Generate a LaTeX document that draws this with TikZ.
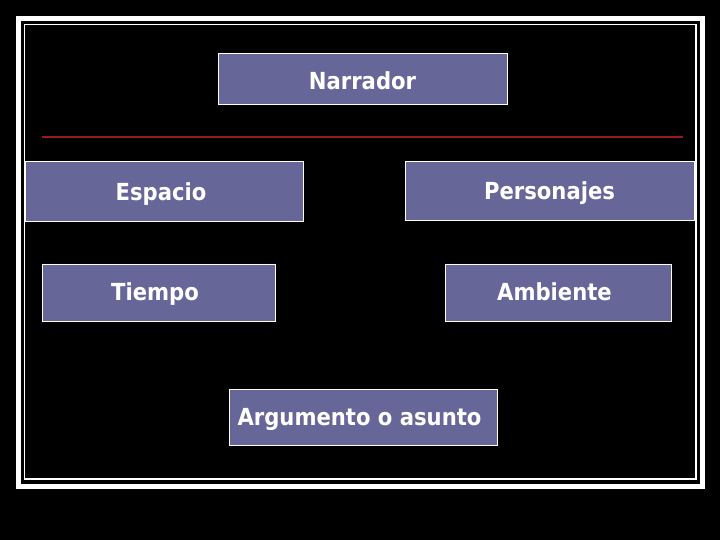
\documentclass[tikz,border=0pt]{standalone}
\usepackage{fontspec}
\setmainfont{DejaVu Sans Condensed}
\begin{document}
\begin{tikzpicture}[x=1pt,y=-1pt,
  box/.style={draw=white,line width=1pt,fill=boxblue,text=white,
    font=\fontsize{23.5}{27}\selectfont\bfseries,inner sep=0pt,
    text height=16.9pt,text depth=0pt},
]
\definecolor{boxblue}{HTML}{666699}
\definecolor{darkred}{HTML}{951C1C}
\fill[black] (0,0) rectangle (720,540);
\useasboundingbox (0,0) rectangle (720,540);
% frame
\draw[white,line width=5pt] (18.5,18.5) rectangle (702.5,486.5);
\draw[white,line width=1.2pt] (24.5,24.5) rectangle (696,479);
% red rule
\coordinate (rl) at (42,136.7);
\coordinate (rr) at (683,136.7);
\draw[darkred,line width=2.2pt] (rl) -- (rr);
% boxes
\node[box,minimum width=289pt,minimum height=51pt,text height=19.9pt] (narr) at (362.5,79.5) {Narrador};
\node[box,minimum width=278pt,minimum height=60pt] (esp) at (164,192) {Espacio\kern6pt};
\node[box,minimum width=289pt,minimum height=59pt] (pers) at (549.5,191.5) {Personajes};
\node[box,minimum width=233pt,minimum height=57pt] (tiem) at (158.5,292.5) {Tiempo\kern7pt};
\node[box,minimum width=226pt,minimum height=57pt] (amb) at (558,292.5) {Ambiente\kern7pt};
\node[box,minimum width=268pt,minimum height=56pt] (arg) at (363,417) {Argumento o asunto\kern7pt};
\end{tikzpicture}
\end{document}
